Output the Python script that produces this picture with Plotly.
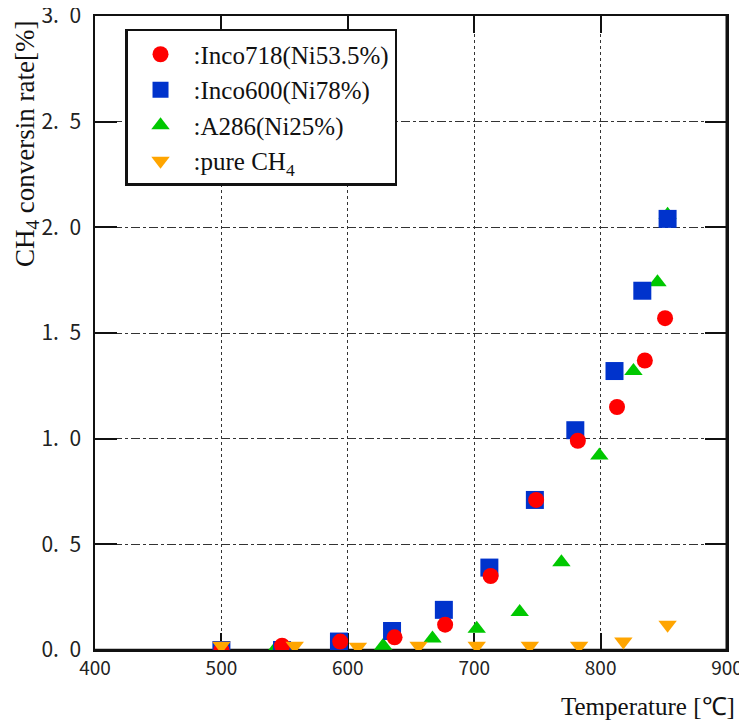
import plotly.graph_objects as go

# Data
t_inco718 = [500, 548, 594, 637, 677, 713, 749, 782, 813, 835, 851]
c_inco718 = [0.0, 0.02, 0.04, 0.06, 0.12, 0.35, 0.71, 0.99, 1.15, 1.37, 1.57]

t_inco600 = [500, 548, 593, 635, 676, 712, 748, 780, 811, 833, 853]
c_inco600 = [0.0, 0.0, 0.04, 0.09, 0.19, 0.39, 0.71, 1.04, 1.32, 1.70, 2.04]

t_a286 = [542, 591, 628, 667, 702, 736, 769, 799, 826, 845, 853]
c_a286 = [0.0, 0.0, 0.02, 0.055, 0.10, 0.18, 0.415, 0.92, 1.32, 1.74, 2.06]

t_ch4 = [500, 558, 608, 656, 702, 744, 783, 818, 853]
c_ch4 = [0.02, 0.02, 0.015, 0.02, 0.02, 0.02, 0.02, 0.04, 0.12]

x_ticks = [400, 500, 600, 700, 800, 900]
y_ticks = [0.0, 0.5, 1.0, 1.5, 2.0, 2.5, 3.0]
y_ticktext = ["0.\u20020", "0.\u20025", "1.\u20020", "1.\u20025",
              "2.\u20020", "2.\u20025", "3.\u20020"]

names = [":Inco718(Ni53.5%)", ":Inco600(Ni78%)", ":A286(Ni25%)",
         ':pure CH<sub>4</sub>']

fig = go.Figure()
# drawing order: green, blue, red, orange (legend order via legendrank)
fig.add_trace(go.Scatter(x=t_a286, y=c_a286, mode="markers", name=names[2],
                         legendrank=3,
                         marker=dict(symbol="triangle-up", size=16, color="#00c800",
                                     line=dict(width=0))))
fig.add_trace(go.Scatter(x=t_inco600, y=c_inco600, mode="markers", name=names[1],
                         legendrank=2,
                         marker=dict(symbol="square", size=18, color="#0033cc",
                                     line=dict(width=0))))
fig.add_trace(go.Scatter(x=t_inco718, y=c_inco718, mode="markers", name=names[0],
                         legendrank=1,
                         marker=dict(symbol="circle", size=16, color="#ff0000",
                                     line=dict(width=0))))
fig.add_trace(go.Scatter(x=t_ch4, y=c_ch4, mode="markers", name=names[3],
                         legendrank=4,
                         marker=dict(symbol="triangle-down", size=16, color="#ffa500",
                                     line=dict(width=0))))

# page body has an 8px margin, so the figure is sized to fit the window
fig.update_layout(
    width=739, height=713,
    margin=dict(l=87, r=20, t=8, b=71),
    plot_bgcolor="white", paper_bgcolor="white",
    font=dict(family="Liberation Serif", color="#111"),
    legend=dict(x=0.0475, y=0.9795, xanchor="left", yanchor="top",
                bordercolor="#111", borderwidth=2.5, bgcolor="white",
                itemwidth=56,
                font=dict(family="Liberation Serif", size=25, color="#111"),
                traceorder="normal"),
    showlegend=True,
)

fig.update_xaxes(range=[400, 900], tickvals=x_ticks, automargin=False,
                 showline=True, linecolor="#111", linewidth=1.5, mirror="ticks",
                 ticks="inside", ticklen=17, tickwidth=1.5, tickcolor="#111",
                 showgrid=True, gridcolor="#333", gridwidth=1, griddash="dot",
                 zeroline=False, layer="below traces", ticklabeloverflow="allow",
                 tickfont=dict(family="Noto Sans CJK JP", size=19, color="#222"))
fig.update_yaxes(range=[0, 3.0], tickvals=y_ticks, ticktext=y_ticktext, automargin=False,
                 showline=True, linecolor="#111", linewidth=1.5, mirror="ticks",
                 ticks="inside", ticklen=22, tickwidth=1.5, tickcolor="#111",
                 showgrid=True, gridcolor="#333", gridwidth=1, griddash="dashdot",
                 zeroline=False, layer="below traces", ticklabelstandoff=8,
                 ticklabeloverflow="allow",
                 tickfont=dict(family="Noto Sans CJK JP", size=21, color="#222"))

# thicker right and bottom frame lines
fig.add_shape(type="line", xref="paper", yref="paper", x0=1, x1=1, y0=0, y1=1,
              line=dict(color="#111", width=3), layer="below")
fig.add_shape(type="line", xref="paper", yref="paper", x0=0, x1=1, y0=0, y1=0,
              line=dict(color="#111", width=2.5), layer="below")

fig.add_annotation(text="CH<sub>4</sub> conversin rate[%]", xref="paper", yref="paper",
                   x=-0.108, y=0.995, xanchor="center", yanchor="top", textangle=-90,
                   showarrow=False, font=dict(family="Liberation Serif", size=27, color="#111"))
fig.add_annotation(text="Temperature [℃]", xref="paper", yref="paper",
                   x=1.016, y=-0.065, xanchor="right", yanchor="top",
                   showarrow=False, font=dict(family="Liberation Serif", size=25, color="#111"))

fig.write_html("out.html")
